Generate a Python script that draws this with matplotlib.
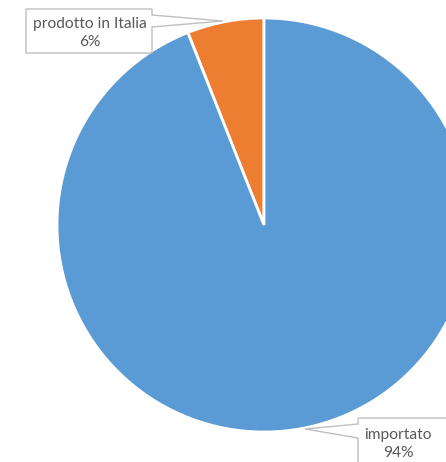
import matplotlib.pyplot as plt
from matplotlib.patches import Polygon

# quote di mercato
etichette = ['prodotto in Italia', 'importato']
valori = [6, 94]
colori = ['#ED7D31', '#5B9BD5']

W, H = 446, 462

def py(y):
  # coordinate in pixel dall'alto -> asse y verso l'alto
  return H - y

fig = plt.figure(figsize=(W / 100, H / 100), dpi=100)
ax = fig.add_axes([0, 0, 1, 1])
ax.pie(valori, colors=colori, startangle=90, counterclock=True,
       center=(264, py(225)), radius=207, frame=True,
       wedgeprops=dict(edgecolor='white', linewidth=2))
ax.set_xlim(0, W)
ax.set_ylim(0, H)
ax.set_aspect('equal')
ax.axis('off')

# callout: rettangolo con punta verso la fetta
def callout(punti, testo, xt, yt):
  poly = Polygon([(x, py(y)) for x, y in punti], closed=True,
                 facecolor='white', edgecolor='#BFBFBF', linewidth=1, zorder=5)
  ax.add_patch(poly)
  ax.text(xt, py(yt), testo, ha='center', va='center', color='#595959',
          fontsize=11.2, family='Lato', linespacing=1.42, zorder=6)

callout([(26, 9), (152, 9), (152, 15), (223, 21), (152, 27), (152, 53), (26, 53)],
        f'{etichette[0]}\n{valori[0]}%', 90, 33)
callout([(358, 418), (460, 418), (460, 470), (358, 470), (358, 438), (305, 429), (358, 424)],
        f'{etichette[1]}\n{valori[1]}%', 398, 444)

fig.savefig('out.png', dpi=100, facecolor='white')
